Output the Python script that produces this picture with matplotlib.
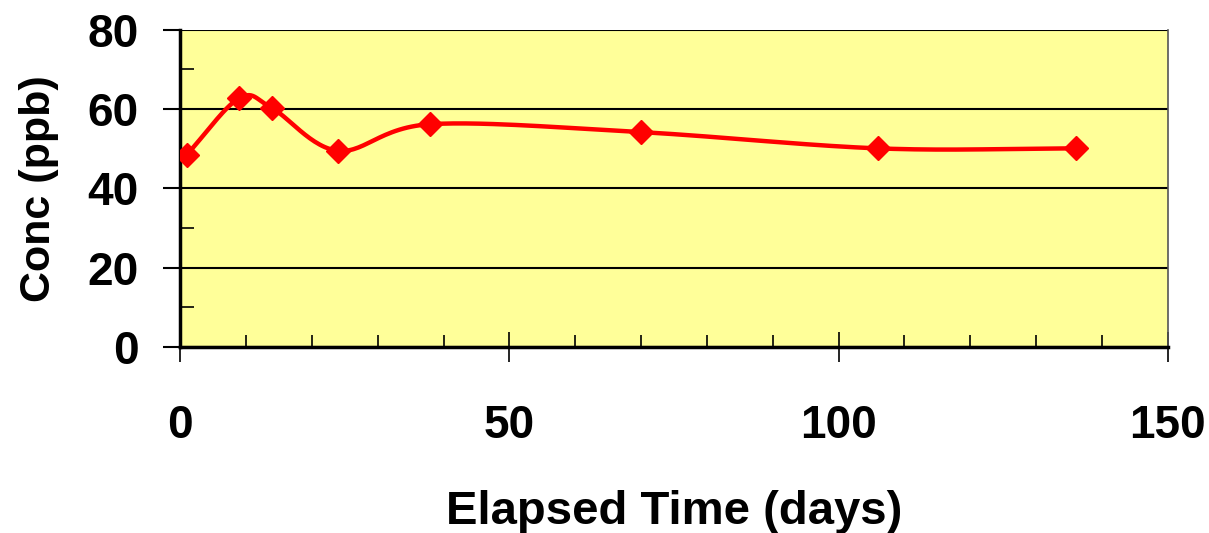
import numpy as np
import matplotlib.pyplot as plt
from matplotlib.ticker import MultipleLocator

days = [1, 9, 14, 24, 38, 70, 106, 136]
conc = [48.5, 62.8, 60.2, 49.5, 56.2, 54.2, 50.1, 50.1]

x_ticks = [0, 50, 100, 150]
y_ticks = [0, 20, 40, 60, 80]


def smooth(x, y, n=30):
    # Catmull-Rom spline through the points, like a spreadsheet "smoothed line"
    x = np.asarray(x, float)
    y = np.asarray(y, float)
    px = np.concatenate([[2 * x[0] - x[1]], x, [2 * x[-1] - x[-2]]])
    py = np.concatenate([[2 * y[0] - y[1]], y, [2 * y[-1] - y[-2]]])
    xs, ys = [], []
    t = np.linspace(0, 1, n)
    for i in range(1, len(px) - 2):
        for p, out in ((px, xs), (py, ys)):
            p0, p1, p2, p3 = p[i - 1], p[i], p[i + 1], p[i + 2]
            out.extend(0.5 * (2 * p1 + (-p0 + p2) * t
                              + (2 * p0 - 5 * p1 + 4 * p2 - p3) * t ** 2
                              + (-p0 + 3 * p1 - 3 * p2 + p3) * t ** 3))
    return xs, ys


plt.rcParams['font.family'] = 'Liberation Sans'
plt.rcParams['font.weight'] = 'bold'

fig = plt.figure(figsize=(12.09, 5.33), dpi=100)
ax = fig.add_axes([0.149, 0.349, 0.817, 0.595])
ax.set_facecolor('#ffff99')

sx, sy = smooth(days, conc)
ax.plot(sx, sy, color='#ff0000', lw=3.2, zorder=3)
ax.plot(days, conc, ls='none', marker='D', ms=12, color='#ff0000',
        mec='#ff0000', zorder=4)

ax.set_xlim(0, 150)
ax.set_ylim(0, 80)
ax.set_xticks(x_ticks)
ax.set_yticks(y_ticks)
ax.xaxis.set_minor_locator(MultipleLocator(10))
ax.yaxis.set_minor_locator(MultipleLocator(10))
ax.yaxis.grid(True, color='black', lw=1.5)
ax.set_axisbelow(True)

ax.tick_params(axis='x', which='major', direction='inout', length=22,
               width=1.2, pad=30, labelsize=33)
ax.tick_params(axis='x', which='minor', direction='in', length=9, width=1.2)
ax.tick_params(axis='y', which='major', direction='out', length=12,
               width=1.5, pad=18, labelsize=33)
ax.tick_params(axis='y', which='minor', direction='in', length=10, width=1.2)

for s in ('left', 'bottom'):
    ax.spines[s].set_linewidth(2.5)
ax.spines['right'].set_color('#555555')
ax.spines['right'].set_linewidth(1.2)
ax.spines['top'].set_visible(False)

ax.set_xlabel('Elapsed Time (days)', fontsize=34, fontweight='bold', labelpad=30)
ax.set_ylabel('Conc (ppb)', fontsize=31, fontweight='bold', labelpad=20)

fig.savefig('out.png', dpi=100, facecolor='white')
